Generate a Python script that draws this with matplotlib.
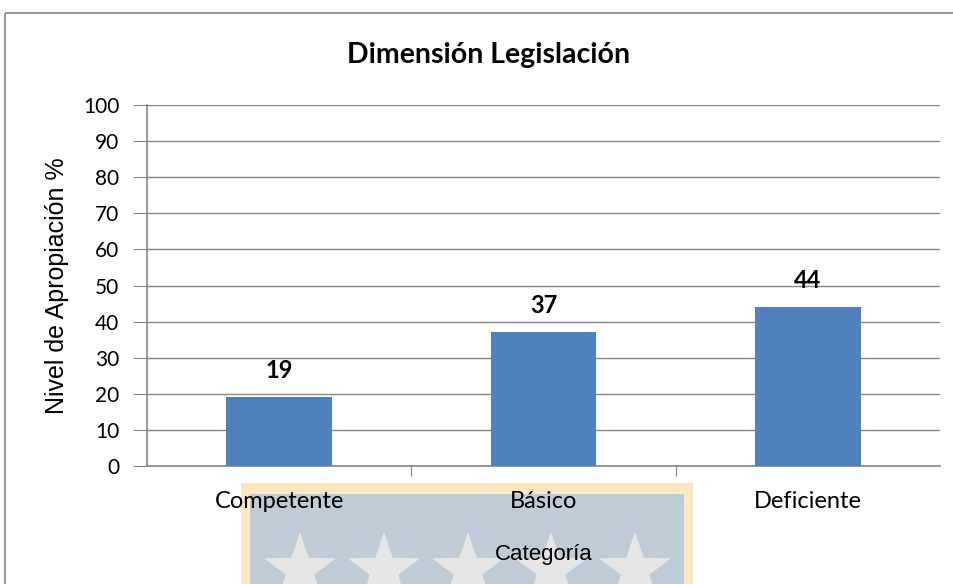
import numpy as np
import matplotlib.pyplot as plt
from matplotlib.patches import Rectangle, Polygon

categorias = ['Competente', 'Básico', 'Deficiente']
valores = [19, 37, 44]
titulo = 'Dimensión Legislación'

W, H = 954, 584
fig = plt.figure(figsize=(W / 100, H / 100), dpi=100)

# fondo: marco y marca de agua (coordenadas en pixeles)
bg = fig.add_axes([0, 0, 1, 1], zorder=-1)
bg.set_xlim(0, W)
bg.set_ylim(H, 0)
bg.axis('off')
bg.add_patch(Rectangle((5, 13), W + 20, H + 20, fill=False, ec='#878787', lw=1.2))
bg.add_patch(Rectangle((241, 483), 452, 120, fc='#fde6c0', ec='none'))
bg.add_patch(Rectangle((250, 494), 434, 120, fc='#bfccd8', ec='none'))
ang = np.pi / 2 + np.arange(10) * np.pi / 5
rad = np.where(np.arange(10) % 2 == 0, 38, 15)
for cx in [300, 384, 468, 551, 635]:
    pts = np.column_stack([cx + rad * np.cos(ang), 570 - rad * np.sin(ang)])
    bg.add_patch(Polygon(pts, closed=True, fc='#e6e6e6', ec='none'))

ax = fig.add_axes([147 / W, 1 - 466 / H, (940 - 147) / W, (466 - 105) / H])
ax.patch.set_alpha(0)
x = np.arange(len(categorias))
ax.bar(x, valores, width=0.4, color='#4f81bd', zorder=3)
for xi, v in zip(x, valores):
    ax.text(xi, v + 4.2, str(v), ha='center', va='bottom', fontsize=17,
            fontweight='bold', family='Lato')

ax.set_xlim(-0.5, 2.5)
ax.set_ylim(0, 100)
ax.set_yticks(range(0, 101, 10))
ax.yaxis.grid(True, color='#868686', lw=1)
ax.set_axisbelow(True)
ax.set_xticks([0.5, 1.5])
ax.set_xticklabels([])
ax.set_xticks(x, minor=True)
ax.set_xticklabels(categorias, minor=True, fontsize=17, family='Lato')
ax.tick_params(axis='x', which='minor', length=0, pad=18)
ax.tick_params(axis='x', which='major', length=7, color='#868686')
ax.tick_params(axis='y', length=10, color='#868686', labelsize=15, pad=10)
for lbl in ax.get_yticklabels():
    lbl.set_family('Lato')
for s in ['top', 'right']:
    ax.spines[s].set_visible(False)
for s in ['left', 'bottom']:
    ax.spines[s].set_color('#868686')
    ax.spines[s].set_linewidth(1.2)

ax.set_ylabel('Nivel de Apropiación %', fontsize=18, family='Liberation Sans', labelpad=10)
ax.set_xlabel('Categoría', fontsize=16, family='Liberation Sans', labelpad=23)
fig.text(489 / W, 1 - 55 / H, titulo, ha='center', va='center', fontsize=20.5,
         fontweight='bold', family='Lato')

fig.savefig('out.png', dpi=100)
